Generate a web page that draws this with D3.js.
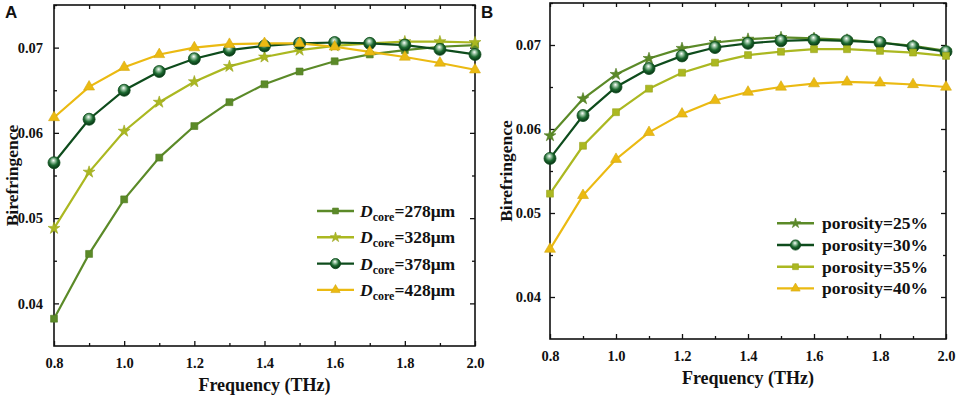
<!DOCTYPE html>
<html>
<head>
<meta charset="utf-8">
<script src="https://cdn.jsdelivr.net/npm/d3@7"></script>
<style>
  body { margin: 0; background: #fff; }
  svg text { font-family: "Liberation Serif", "DejaVu Serif", serif !important; font-weight: bold; }
  svg text.letter { font-family: "Liberation Sans", "DejaVu Sans", sans-serif !important; }
</style>
</head>
<body>
<svg id="drawing_region"></svg>
<script>
// frequency points (THz)
var freq = [0.8, 0.9, 1.0, 1.1, 1.2, 1.3, 1.4, 1.5, 1.6, 1.7, 1.8, 1.9, 2.0];

// panel A: core diameter
var core278 = [0.0382, 0.0458, 0.0522, 0.0571, 0.0608, 0.0636, 0.0657, 0.0672, 0.0684, 0.0692, 0.0697, 0.0701, 0.0703];
var core328 = [0.0488, 0.0554, 0.0602, 0.0636, 0.0660, 0.0678, 0.0689, 0.0697, 0.0702, 0.0705, 0.0707, 0.0707, 0.0706];
var core378 = [0.0565, 0.0616, 0.0650, 0.0672, 0.0687, 0.0697, 0.0702, 0.0705, 0.0706, 0.0705, 0.0703, 0.0698, 0.0692];
var core428 = [0.0618, 0.0654, 0.0677, 0.0692, 0.0700, 0.0704, 0.0705, 0.0705, 0.0701, 0.0695, 0.0689, 0.0682, 0.0674];
var coreLabels = ['278μm', '328μm', '378μm', '428μm'];

// panel B: porosity
var por25 = [0.0592, 0.0636, 0.0665, 0.0684, 0.0696, 0.0703, 0.0707, 0.0709, 0.0708, 0.0706, 0.0703, 0.0699, 0.0693];
var por30 = [0.0565, 0.0616, 0.0650, 0.0672, 0.0687, 0.0697, 0.0702, 0.0705, 0.0706, 0.0705, 0.0703, 0.0698, 0.0692];
var por35 = [0.0523, 0.0580, 0.0620, 0.0648, 0.0667, 0.0679, 0.0688, 0.0692, 0.0695, 0.0695, 0.0693, 0.0691, 0.0687];
var por40 = [0.0457, 0.0521, 0.0564, 0.0596, 0.0618, 0.0634, 0.0644, 0.0650, 0.0654, 0.0656, 0.0655, 0.0653, 0.0650];
var porLabels = ['porosity=25%', 'porosity=30%', 'porosity=35%', 'porosity=40%'];

var xTicks = [0.8, 1.0, 1.2, 1.4, 1.6, 1.8, 2.0];
var xMinor = [0.9, 1.1, 1.3, 1.5, 1.7, 1.9];
var yTicks = [0.04, 0.05, 0.06, 0.07];
var yMinor = [0.045, 0.055, 0.065, 0.075];

var olive = '#5b8a28', lime = '#abb821', dark = '#0e4c1c', gold = '#ebba12';
var SERIF = '"Liberation Serif", "DejaVu Serif", serif';

var svg = d3.select('#drawing_region')
    .attr('width', 957)
    .attr('height', 399);

// sphere shading for circle markers
var grad = svg.append('defs').append('radialGradient')
    .attr('id', 'ball').attr('cx', '0.45').attr('cy', '0.4').attr('r', '0.6')
    .attr('fx', '0.45').attr('fy', '0.3');
grad.append('stop').attr('offset', '0').attr('stop-color', '#ffffff');
grad.append('stop').attr('offset', '0.25').attr('stop-color', '#9bc4a4');
grad.append('stop').attr('offset', '0.6').attr('stop-color', '#1c6a30');
grad.append('stop').attr('offset', '1').attr('stop-color', '#063012');

var panels = [
  {letter: 'A', x0: 54, x1: 475, y0: 5, y1: 346, lx: 317, ly: 211, ldy: 26.3, isCore: true, titleX: 18, pad: 11,
   series: [
     {vals: core278, color: olive, shape: 'square', label: coreLabels[0]},
     {vals: core328, color: lime, shape: 'star', label: coreLabels[1]},
     {vals: core378, color: dark, shape: 'ball', label: coreLabels[2]},
     {vals: core428, color: gold, shape: 'tri', label: coreLabels[3]}
   ]},
  {letter: 'B', x0: 550, x1: 946, y0: 3, y1: 339, lx: 777, ly: 223.3, ldy: 21.7, isCore: false, titleX: 512, pad: 9,
   series: [
     {vals: por25, color: olive, shape: 'star', label: porLabels[0]},
     {vals: por30, color: dark, shape: 'ball', label: porLabels[1]},
     {vals: por35, color: lime, shape: 'square', label: porLabels[2]},
     {vals: por40, color: gold, shape: 'tri', label: porLabels[3]}
   ]}
];

panels.forEach(drawPanel);

function marker(g, shape, color, scale){
  if (shape === 'ball') {
    return g.append('circle').attr('r', 6 * scale)
      .attr('fill', 'url(#ball)').attr('stroke', color).attr('stroke-width', 0.8);
  }
  var type = shape === 'square' ? d3.symbolSquare : shape === 'star' ? d3.symbolStar : d3.symbolTriangle;
  var size = shape === 'square' ? 48 : shape === 'star' ? 44 : 52;
  return g.append('path').attr('d', d3.symbol().type(type).size(size * scale * scale))
    .attr('fill', color).attr('stroke', d3.color(color).darker(0.3)).attr('stroke-width', 0.6);
}

function drawPanel(p){
  var xscale = d3.scaleLinear().domain([0.8, 2.0]).range([p.x0, p.x1]);
  var yscale = d3.scaleLinear().domain([0.035, 0.075]).range([p.y1, p.y0]);
  var chart = svg.append('g');

  // axes: ticks pointing inward, mirrored on top and right
  var bottom = chart.append('g').attr('transform', `translate(0, ${p.y1})`);
  bottom.call(d3.axisBottom(xscale).tickValues(xTicks).tickSize(-5).tickPadding(12).tickFormat(d3.format('.1f')));
  bottom.append('g').call(d3.axisBottom(xscale).tickValues(xMinor).tickSize(-3).tickFormat(''));
  chart.append('g').attr('transform', `translate(0, ${p.y0})`)
    .call(d3.axisTop(xscale).tickValues(xTicks.concat(xMinor)).tickSize(-4).tickFormat(''));

  var left = chart.append('g').attr('transform', `translate(${p.x0}, 0)`);
  left.call(d3.axisLeft(yscale).tickValues(yTicks).tickSize(-5).tickPadding(p.pad).tickFormat(d3.format('.2f')));
  left.append('g').call(d3.axisLeft(yscale).tickValues(yMinor).tickSize(-3).tickFormat(''));
  var right = chart.append('g').attr('transform', `translate(${p.x1}, 0)`);
  right.call(d3.axisRight(yscale).tickValues(yTicks).tickSize(-5).tickFormat(''));
  right.append('g').call(d3.axisRight(yscale).tickValues(yMinor).tickSize(-3).tickFormat(''));

  chart.selectAll('.domain').remove();
  chart.selectAll('g').attr('font-family', SERIF);
  chart.selectAll('.tick line').attr('stroke', '#111').attr('stroke-width', 1.3);
  chart.selectAll('.tick text').attr('font-size', 14.5).attr('fill', '#111')
    .attr('font-family', SERIF).attr('font-weight', 'bold');

  chart.append('rect')
    .attr('x', p.x0).attr('y', p.y0)
    .attr('width', p.x1 - p.x0).attr('height', p.y1 - p.y0)
    .attr('fill', 'none').attr('stroke', '#111').attr('stroke-width', 1.6);

  var line = d3.line().x((d, i) => xscale(freq[i])).y(d => yscale(d));

  p.series.forEach(function(s){
    chart.append('path').datum(s.vals)
      .attr('d', line).attr('fill', 'none')
      .attr('stroke', s.color).attr('stroke-width', 2.2);
  });
  p.series.forEach(function(s){
    s.vals.forEach(function(v, i){
      var g = chart.append('g').attr('transform', `translate(${xscale(freq[i])}, ${yscale(v)})`);
      marker(g, s.shape, s.color, 1);
    });
  });

  // legend
  p.series.forEach(function(s, k){
    var y = p.ly + k * p.ldy;
    chart.append('line').attr('x1', p.lx).attr('x2', p.lx + 37).attr('y1', y).attr('y2', y)
      .attr('stroke', s.color).attr('stroke-width', 2.4);
    var g = chart.append('g').attr('transform', `translate(${p.lx + 18.5}, ${y})`);
    marker(g, s.shape, s.color, 0.85);
    var t = chart.append('text').attr('x', p.lx + (p.isCore ? 43 : 45)).attr('y', y + 6)
      .attr('font-family', SERIF).attr('font-weight', 'bold')
      .attr('font-size', 17.5).attr('fill', '#111');
    if (p.isCore) {
      t.append('tspan').attr('font-style', 'italic').text('D');
      t.append('tspan').attr('font-size', 12).attr('dy', 4).text('core');
      t.append('tspan').attr('dy', -4).text('=' + s.label);
    } else {
      t.text(s.label);
    }
  });

  // titles
  chart.append('text')
    .attr('transform', `translate(${p.titleX}, ${(p.y0 + p.y1) / 2}) rotate(-90)`)
    .attr('text-anchor', 'middle').attr('font-size', 17.5).attr('fill', '#111')
    .attr('font-family', SERIF).attr('font-weight', 'bold')
    .text('Birefringence');
  chart.append('text')
    .attr('x', (p.x0 + p.x1) / 2).attr('y', p.y1 + 45)
    .attr('text-anchor', 'middle').attr('font-size', 18).attr('fill', '#111')
    .attr('font-family', SERIF).attr('font-weight', 'bold')
    .text('Frequency (THz)');
  chart.append('text').attr('class', 'letter')
    .attr('x', p.letter === 'A' ? 5 : 481).attr('y', 18)
    .attr('font-size', 17).attr('font-weight', 'bold').attr('fill', '#111')
    .text(p.letter);
}
</script>
</body>
</html>
